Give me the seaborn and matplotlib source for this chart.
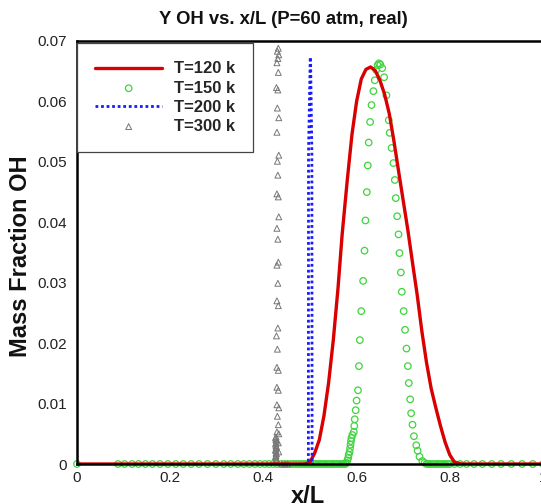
import numpy as np
import pandas as pd
import matplotlib
matplotlib.use("Agg")
import matplotlib.pyplot as plt
from matplotlib.ticker import MultipleLocator
import seaborn as sns

# ---------------- data ----------------
title = "Y OH vs. x/L (P=60 atm, real)"
xlabel = "x/L"
ylabel = "Mass Fraction OH"
labels = ["T=120 k", "T=150 k", "T=200 k", "T=300 k"]

# T=120 k (solid red line)
t120_x = [0.0, 0.30, 0.49, 0.500, 0.510, 0.520, 0.530, 0.540, 0.550, 0.560, 0.569,
          0.580, 0.590, 0.600, 0.610, 0.620, 0.630, 0.640, 0.650, 0.660, 0.670,
          0.680, 0.690, 0.700, 0.710, 0.720, 0.730, 0.740, 0.750, 0.760, 0.770,
          0.780, 0.790, 0.800, 0.810, 0.825, 1.0]
t120_y = [0.0, 0.0, 0.0, 0.0003, 0.0018, 0.0040, 0.0080, 0.0135, 0.0205, 0.0290, 0.0380,
          0.0470, 0.0545, 0.0600, 0.0637, 0.0653, 0.0657, 0.0651, 0.0635, 0.0612, 0.0580,
          0.0535, 0.0485, 0.0436, 0.0387, 0.0333, 0.0280, 0.0220, 0.0168, 0.0125, 0.0093,
          0.0063, 0.0036, 0.0015, 0.0003, 0.0, 0.0]

# T=150 k (hollow green circles)
t150_x = [0.0, 0.088, 0.102, 0.118, 0.132, 0.147, 0.162, 0.178, 0.195, 0.212, 0.228,
          0.245, 0.262, 0.280, 0.298, 0.315, 0.330, 0.345, 0.358, 0.370, 0.382, 0.393,
          0.403, 0.412, 0.421, 0.429, 0.437, 0.444, 0.451, 0.458, 0.464, 0.470, 0.476,
          0.482, 0.487, 0.492, 0.497, 0.502, 0.507, 0.512, 0.517, 0.522, 0.527, 0.532,
          0.537, 0.542, 0.547, 0.552, 0.557, 0.562, 0.567, 0.572, 0.576,
          0.578, 0.580, 0.582, 0.583, 0.585, 0.586, 0.587, 0.588, 0.589, 0.591, 0.594,
          0.595, 0.596, 0.598, 0.600, 0.603, 0.605, 0.607, 0.610, 0.614, 0.617, 0.619,
          0.622, 0.624, 0.626, 0.629, 0.632, 0.636, 0.639, 0.642, 0.645, 0.648, 0.651,
          0.655, 0.659, 0.664, 0.669, 0.671, 0.675, 0.679, 0.682, 0.684, 0.687, 0.690,
          0.692, 0.695, 0.697, 0.701, 0.704, 0.707, 0.710, 0.712, 0.715, 0.717, 0.720,
          0.723, 0.728, 0.731, 0.735, 0.741, 0.746,
          0.750, 0.755, 0.760, 0.765, 0.770, 0.775, 0.780, 0.785, 0.790, 0.795, 0.800,
          0.810, 0.822, 0.836, 0.852, 0.870, 0.890, 0.910, 0.932, 0.955, 0.978, 1.0]
t150_y = [0.0] * 53 + [
          0.0002, 0.0006, 0.0010, 0.0015, 0.0020, 0.0026, 0.0032, 0.0038, 0.0043, 0.0048, 0.0053,
          0.0063, 0.0074, 0.0089, 0.0105, 0.0122, 0.0162, 0.0205, 0.0253, 0.0303, 0.0353, 0.0403,
          0.0450, 0.0494, 0.0532, 0.0566, 0.0594, 0.0617, 0.0635, 0.0652, 0.0660, 0.0663, 0.0661,
          0.0655, 0.0640, 0.0610, 0.0569, 0.0548, 0.0523, 0.0498, 0.0470, 0.0440, 0.0410, 0.0380,
          0.0349, 0.0317, 0.0285, 0.0253, 0.0222, 0.0191, 0.0162, 0.0134, 0.0107, 0.0084, 0.0065,
          0.0046, 0.0031, 0.0022, 0.0012, 0.0005, 0.0002] + [0.0] * 22

# T=200 k (blue dotted line)
t200_x = [0.490, 0.4965, 0.4968, 0.5005, 0.5012, 0.5040, 0.5045, 0.508]
t200_y = [0.0, 0.0, 0.0515, 0.0673, 0.0673, 0.0515, 0.0, 0.0]

# T=300 k (hollow grey triangles)
t300_x = [0.432, 0.430, 0.433, 0.431, 0.429, 0.432, 0.428, 0.431, 0.430, 0.433, 0.429,
          0.433, 0.430, 0.431, 0.429, 0.432, 0.433, 0.429, 0.431, 0.432, 0.429, 0.431,
          0.429, 0.432, 0.431, 0.428, 0.430, 0.429, 0.432, 0.429, 0.432, 0.429, 0.433,
          0.430, 0.432, 0.429, 0.433, 0.432, 0.433,
          0.427, 0.427, 0.427, 0.427, 0.427, 0.427, 0.427, 0.427, 0.427, 0.427,
          0.426, 0.428, 0.426, 0.428, 0.426, 0.428, 0.426, 0.428,
          0.440, 0.446, 0.452]
t300_y = [0.0688, 0.0683, 0.0677, 0.0671, 0.0664, 0.0648, 0.0623, 0.0619, 0.0589, 0.0573, 0.0549,
          0.0511, 0.0501, 0.0478, 0.0447, 0.0442, 0.0409, 0.0390, 0.0372, 0.0334, 0.0329, 0.0299,
          0.0270, 0.0262, 0.0225, 0.0212, 0.0190, 0.0160, 0.0155, 0.0127, 0.0122, 0.0098, 0.0093,
          0.0079, 0.0065, 0.0053, 0.0050, 0.0035, 0.0020,
          0.0045, 0.0040, 0.0035, 0.0030, 0.0026, 0.0022, 0.0018, 0.0014, 0.0010, 0.0006,
          0.0043, 0.0038, 0.0033, 0.0028, 0.0023, 0.0017, 0.0012, 0.0007,
          0.0, 0.0, 0.0]

# ---------------- style ----------------
sns.set_style("white")
plt.rcParams["font.family"] = ["Liberation Sans", "DejaVu Sans"]

RED = "#d80000"
GREEN = "#3ed43e"
BLUE = "#1a1aff"
GREY = "#777777"

fig = plt.figure(figsize=(5.41, 5.04), dpi=100)
ax = fig.add_axes([77 / 541, 40 / 504, 466 / 541, 423 / 504])

df120 = pd.DataFrame({"x": t120_x, "y": t120_y})
df150 = pd.DataFrame({"x": t150_x, "y": t150_y})
df200 = pd.DataFrame({"x": t200_x, "y": t200_y})
df300 = pd.DataFrame({"x": t300_x, "y": t300_y})

sns.lineplot(data=df120, x="x", y="y", sort=False, estimator=None, color=RED,
             linewidth=2.4, label=labels[0], ax=ax, zorder=3)
sns.scatterplot(data=df150, x="x", y="y", marker="o", s=22, color=GREEN,
                facecolor="none", edgecolor=GREEN, linewidth=0.9,
                label=labels[1], ax=ax, clip_on=False, zorder=2)
sns.lineplot(data=df200, x="x", y="y", sort=False, estimator=None, color=BLUE,
             linewidth=2.0, linestyle=(0, (1, 1)), label=labels[2], ax=ax, zorder=3)
sns.scatterplot(data=df300, x="x", y="y", marker="^", s=18, color=GREY,
                facecolor="none", edgecolor=GREY, linewidth=0.7,
                label=labels[3], ax=ax, clip_on=False, zorder=2)

ax.set_xlim(0, 1)
ax.set_ylim(0, 0.07)
ax.xaxis.set_major_locator(MultipleLocator(0.2))
ax.xaxis.set_minor_locator(MultipleLocator(0.05))
ax.yaxis.set_major_locator(MultipleLocator(0.01))
ax.yaxis.set_minor_locator(MultipleLocator(0.002))
ax.set_xticks([0, 0.2, 0.4, 0.6, 0.8, 1.0])
ax.set_xticklabels(["0", "0.2", "0.4", "0.6", "0.8", "1"])
ax.set_yticks([0, 0.01, 0.02, 0.03, 0.04, 0.05, 0.06, 0.07])
ax.set_yticklabels(["0", "0.01", "0.02", "0.03", "0.04", "0.05", "0.06", "0.07"])

ax.tick_params(axis="both", which="major", direction="in", length=7, width=1.6,
               labelsize=11, color="black", labelcolor="#222222")
ax.tick_params(axis="both", which="minor", direction="in", length=3.5, width=1.0,
               color="black")
ax.tick_params(axis="x", which="major", pad=5)
ax.tick_params(axis="y", which="major", pad=7)
for side in ["left", "bottom", "top", "right"]:
    ax.spines[side].set_linewidth(1.8)
    ax.spines[side].set_color("black")
    ax.spines[side].set_zorder(5)

ax.set_xlabel("")
ax.set_ylabel("")

fig.text(283 / 541, 1 - 20 / 504, title, ha="center", va="center",
         fontsize=13.3, fontweight="bold", color="#111111")
fig.text(308 / 541, 1 - 503 / 504, xlabel, ha="center", va="baseline",
         fontsize=17, fontweight="bold", color="#111111")
fig.text(21 / 541, 1 - 256 / 504, ylabel, ha="center", va="center", rotation=90,
         fontsize=17, fontweight="bold", color="#111111")

leg = ax.legend(loc="upper left", bbox_to_anchor=(0.0, 0.995), borderaxespad=0,
                prop={"size": 12, "weight": "bold"}, frameon=True, fancybox=False,
                edgecolor="#444444", framealpha=1, handlelength=4.0,
                handletextpad=0.7, labelspacing=0.25, borderpad=1.1,
                markerscale=1.0)
leg.get_frame().set_linewidth(0.9)
leg.set_zorder(6)

fig.savefig("out.png", dpi=100)
